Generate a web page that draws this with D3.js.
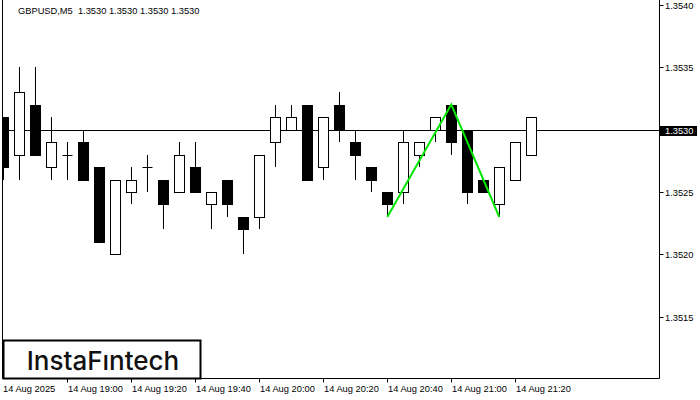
<!DOCTYPE html>
<html><head><meta charset="utf-8">
<script src="https://cdn.jsdelivr.net/npm/d3@7/dist/d3.min.js"></script>
<style>html,body{margin:0;padding:0;background:#fff;}svg{display:block;}</style>
</head><body>
<svg id="c" width="700" height="400"></svg>
<script>
const symbolTitle = "GBPUSD,M5  1.3530 1.3530 1.3530 1.3530";
const candleIndex = d3.range(34);
const openP  = [1.3531,1.3528,1.3532,1.3527,1.3528,1.3529,1.3527,1.3520,1.3525,1.3527,1.3526,1.3525,1.3527,1.3524,1.3526,1.3523,1.3523,1.3529,1.3530,1.3532,1.3527,1.3532,1.3529,1.3527,1.3525,1.3525,1.3528,1.3530,1.3532,1.3530,1.3526,1.3524,1.3526,1.3528];
const highP  = [1.3531,1.3535,1.3535,1.3531,1.3529,1.3530,1.3527,1.3526,1.3527,1.3528,1.3526,1.3529,1.3529,1.3525,1.3526,1.3523,1.3528,1.3532,1.3532,1.3532,1.3531,1.3533,1.3530,1.3527,1.3525,1.3530,1.3529,1.3531,1.3532,1.3530,1.3526,1.3527,1.3529,1.3531];
const lowP   = [1.3526,1.3526,1.3528,1.3526,1.3526,1.3526,1.3521,1.3520,1.3524,1.3525,1.3522,1.3525,1.3525,1.3522,1.3523,1.3520,1.3522,1.3527,1.3530,1.3526,1.3526,1.3529,1.3526,1.3525,1.3523,1.3524,1.3527,1.3529,1.3528,1.3524,1.3525,1.3523,1.3526,1.3528];
const closeP = [1.3527,1.3533,1.3528,1.3529,1.3528,1.3526,1.3521,1.3526,1.3526,1.3527,1.3524,1.3528,1.3525,1.3525,1.3524,1.3522,1.3528,1.3531,1.3531,1.3526,1.3531,1.3530,1.3528,1.3526,1.3524,1.3529,1.3529,1.3531,1.3529,1.3525,1.3525,1.3527,1.3529,1.3531];
const priceTicks = [1.3515,1.3520,1.3525,1.3530,1.3535,1.3540];
const timeTickIndex = [0,4,8,12,16,20,24,28,32];
const timeLabels = ["14 Aug 2025","14 Aug 19:00","14 Aug 19:20","14 Aug 19:40","14 Aug 20:00","14 Aug 20:20","14 Aug 20:40","14 Aug 21:00","14 Aug 21:20"];
const currentPrice = 1.3530;
const patternIndex = [24,28,31];
const patternPrice = [1.3523,1.3532,1.3523];

const svg = d3.select("#c");
const font = "'Liberation Sans', Arial, sans-serif";
const fs = 9.3;
const x = d3.scaleLinear().domain([0,1]).range([3.3,19.3]);
const y = d3.scaleLinear().domain([1.3510,1.3540]).range([379.5,4.5]);
const L = 2.5, R = 659.5, B = 378.5;
const cx = i => Math.round(x(i));

// current price line
svg.append("line").attr("x1",L).attr("x2",R).attr("y1",Math.round(y(currentPrice))+0.5).attr("y2",Math.round(y(currentPrice))+0.5)
  .attr("stroke","#000").attr("stroke-width",1);

svg.append("clipPath").attr("id","clip").append("rect").attr("x",L).attr("y",0).attr("width",R-L).attr("height",B);
const g = svg.append("g").attr("clip-path","url(#clip)");

candleIndex.forEach(i=>{
  const o=openP[i], c=closeP[i], h=highP[i], l=lowP[i];
  const xc = cx(i)+0.5;
  g.append("line").attr("x1",xc).attr("x2",xc).attr("y1",Math.round(y(h))).attr("y2",Math.round(y(l)))
    .attr("stroke","#000").attr("stroke-width",1);
  const top = Math.round(y(Math.max(o,c))), bot = Math.round(y(Math.min(o,c)));
  if (bot - top < 1) {
    g.append("line").attr("x1",xc-5).attr("x2",xc+5).attr("y1",top+0.5).attr("y2",top+0.5).attr("stroke","#000");
  } else if (c >= o) {
    g.append("rect").attr("x",xc-5).attr("y",top+0.5).attr("width",10).attr("height",bot-top)
      .attr("fill","#fff").attr("stroke","#000").attr("stroke-width",1);
  } else {
    g.append("rect").attr("x",xc-5.5).attr("y",top).attr("width",11).attr("height",bot-top+1)
      .attr("fill","#000");
  }
});

// pattern
const line = d3.line().x((d,k)=>x(patternIndex[k])).y(d=>y(d));
svg.append("path").datum(patternPrice).attr("d",line).attr("fill","none")
  .attr("stroke","#00e600").attr("stroke-width",2);

// frame
svg.append("path").attr("d",`M${L},0 V${B} H${R} V0`).attr("fill","none").attr("stroke","#000").attr("stroke-width",1);

// right axis
priceTicks.forEach(p=>{
  const yy = Math.round(y(p))+0.5;
  svg.append("line").attr("x1",R).attr("x2",R+4).attr("y1",yy).attr("y2",yy).attr("stroke","#000");
  svg.append("text").attr("x",665).attr("y",yy+3.5).text(d3.format(".4f")(p))
    .attr("font-family",font).attr("font-size",fs).attr("fill","#000");
});
const cy = Math.round(y(currentPrice));
svg.append("rect").attr("x",660).attr("y",cy-4).attr("width",37).attr("height",10).attr("fill","#000");
svg.append("text").attr("x",665).attr("y",cy+4).text(d3.format(".4f")(currentPrice))
  .attr("font-family",font).attr("font-size",fs).attr("fill","#fff");

// bottom axis
timeTickIndex.forEach((ti,k)=>{
  const xx = cx(ti)+0.5;
  if (k>0) svg.append("line").attr("x1",xx).attr("x2",xx).attr("y1",B).attr("y2",B+4).attr("stroke","#000");
  svg.append("text").attr("x",k===0?3:xx+0.5).attr("y",392).text(timeLabels[k])
    .attr("font-family",font).attr("font-size",fs).attr("fill","#000");
});

// title
svg.append("text").attr("x",18).attr("y",14).text(symbolTitle).attr("xml:space","preserve")
  .style("white-space","pre").attr("font-family",font).attr("font-size",fs).attr("fill","#000");

// logo
svg.append("rect").attr("x",3.5).attr("y",340.5).attr("width",197).attr("height",38)
  .attr("fill","#fff").attr("stroke","#000").attr("stroke-width",2);
svg.append("text").attr("x",103).attr("y",370).attr("text-anchor","middle").text("InstaFıntech")
  .attr("font-family","Inter, 'Open Sans', sans-serif").attr("font-weight",500).attr("font-size",26).attr("fill","#111");
</script>
</body></html>
